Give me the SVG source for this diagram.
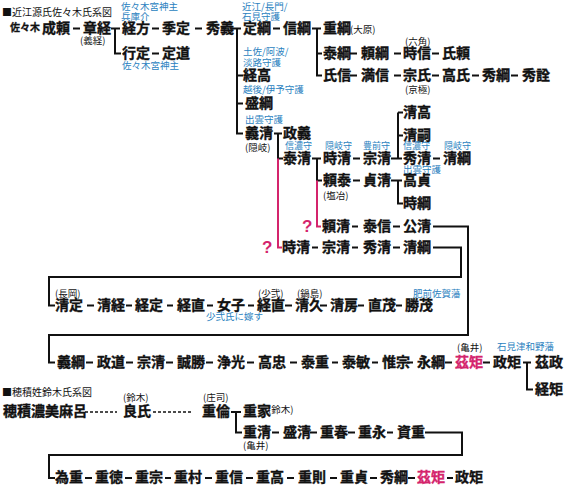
<svg xmlns="http://www.w3.org/2000/svg" width="565" height="488" viewBox="0 0 565 488">
<style>
text{font-family:"Noto Sans CJK JP","Noto Sans CJK SC",sans-serif}
.n{font-size:14px;font-weight:700;fill:#111;stroke:#111;stroke-width:0.35}
.s{font-size:9.5px;fill:#111}
.b{font-size:9.5px;fill:#2a7fc0}
.m{font-size:9px}
.t{font-size:10px;fill:#111}
.pk{fill:#d4246c;stroke:#d4246c}
.q{font-size:17px;font-weight:700;fill:#d4246c;font-family:"Liberation Sans",sans-serif}
.c{stroke:#111;stroke-width:2;fill:none}
.cp{stroke:#d4246c;stroke-width:2;fill:none}
.d{stroke:#111;stroke-width:1.6;fill:none;stroke-dasharray:3 2}
</style>
<rect width="565" height="488" fill="#fff"/>
<text class="t" x="2" y="16">■近江源氏佐々木氏系図</text>
<text class="t" x="2" y="396">■穂積姓鈴木氏系図</text>
<g id="connectors">
<path class="c" d="M73,28.5H80M152,28.5H159M195,28.5H202M273,28.5H280"/>
<path class="c" d="M111,28.5H120M115,28.5V53.5H121"/>
<path class="c" d="M232,28.5H241M237,28.5V133.5H243M237,75.5H243M237,103.5H243"/>
<path class="c" d="M312,28.5H321M317,28.5V75.5H322M317,53.5H322"/>
<path class="c" d="M152,53.5H159M350,53.5H357M394,53.5H401M432,53.5H439"/>
<path class="c" d="M350,75.5H357M394,75.5H401M432,75.5H439M472,75.5H479M511,75.5H518"/>
<path class="c" d="M274,133.5H282M278,133.5V158.5H283"/>
<path class="cp" d="M278,158.5V247.5H282"/>
<path class="c" d="M353,158.5H360M391,158.5H402M398,112.5V158.5M398,112.5H403M398,135.5H403M433,158.5H440"/>
<path class="c" d="M312,158.5H321M317,158.5V180.5H322"/>
<path class="cp" d="M317,180.5V226.5H321"/>
<path class="c" d="M353,180.5H360M391,180.5H402M398,180.5V203.5H403"/>
<path class="c" d="M352,226.5H358M393,226.5H400M433,226.5H468V335H49V362.5H55"/>
<path class="c" d="M312,247.5H318M352,247.5H358M393,247.5H400M433,247.5H461V277H49V305.5H55"/>
<path class="c" d="M87,305.5H94M126,305.5H132M167,305.5H173M207,305.5H213M248,305.5H254M285,305.5H292M320,305.5H327M358,305.5H364M396,305.5H402"/>
<path class="c" d="M86,362.5H93M126,362.5H133M166,362.5H173M206,362.5H213M247,362.5H254M290,362.5H297M332,362.5H338M372,362.5H378M407,362.5H413M445,362.5H452M483,362.5H490"/>
<path class="c" d="M523,362.5H531M527,362.5V389.5H533"/>
<path class="d" d="M85,412H117M153,412H193"/>
<path class="c" d="M231,412H241M236,412V432.5H242"/>
<path class="c" d="M272,432.5H279M310,432.5H317M348,432.5H355M387,432.5H393M425,432.5H462V455H49V478H55"/>
<path class="c" d="M85,478H92M125,478H132M165,478H171M205,478H212M246,478H253M287,478H294M330,478H337M370,478H377M408,478H415M447,478H453"/>
</g>
<g id="sasaki"><text x="10" y="31" style="font-size:10px;font-weight:700;fill:#111;stroke:#111;stroke-width:0.3">佐々木</text></g>
<g id="nariyori"><text class="n" x="42" y="33">成頼</text></g>
<g id="akitsune"><text class="n" x="83" y="33">章経</text><text class="s" x="80" y="43.5">(義経)</text></g>
<g id="tsunekata"><text class="b" x="121" y="10">佐々木宮神主</text><text class="b" x="121" y="19.5">兵庫介</text><text class="n" x="122" y="33">経方</text></g>
<g id="suesada"><text class="n" x="162" y="33">季定</text></g>
<g id="hideyoshi"><text class="n" x="206" y="33">秀義</text></g>
<g id="sadatsuna"><text class="b" x="242" y="10">近江/長門/</text><text class="b" x="242" y="19.5">石見守護</text><text class="n" x="243" y="33">定綱</text></g>
<g id="nobutsuna"><text class="n" x="283" y="33">信綱</text></g>
<g id="shigetsuna"><text class="n" x="323" y="33">重綱</text><text class="s" x="350" y="33">(大原)</text></g>
<g id="yukisada"><text class="n" x="122" y="58">行定</text><text class="b" x="122" y="68.5">佐々木宮神主</text></g>
<g id="sadamichi"><text class="n" x="162" y="58">定道</text></g>
<g id="yasutsuna"><text class="n" x="323" y="58">泰綱</text></g>
<g id="yoritsuna"><text class="n" x="361" y="58">頼綱</text></g>
<g id="tokinobu"><text class="s" x="405" y="44.5">(六角)</text><text class="n" x="403" y="58">時信</text></g>
<g id="ujiyori"><text class="n" x="442" y="58">氏頼</text></g>
<g id="tsunetaka"><text class="b" x="243" y="55">土佐/阿波/</text><text class="b" x="243" y="65.5">淡路守護</text><text class="n" x="243" y="80">経高</text></g>
<g id="ujinobu"><text class="n" x="323" y="80">氏信</text></g>
<g id="mitsunobu"><text class="n" x="361" y="80">満信</text></g>
<g id="muneuji"><text class="n" x="403" y="80">宗氏</text><text class="s" x="405" y="93">(京極)</text></g>
<g id="takauji"><text class="n" x="442" y="80">高氏</text></g>
<g id="hidetsuna1"><text class="n" x="482" y="80">秀綱</text></g>
<g id="hideaki"><text class="n" x="522" y="80">秀詮</text></g>
<g id="moritsuna"><text class="b" x="243" y="93">越後/伊予守護</text><text class="n" x="245" y="108">盛綱</text></g>
<g id="yoshikiyo"><text class="b" x="245" y="122.5">出雲守護</text><text class="n" x="245" y="138">義清</text><text class="s" x="245" y="150.5">(隠岐)</text></g>
<g id="masayoshi"><text class="n" x="283" y="138">政義</text></g>
<g id="yasukiyo"><text class="b m" x="285" y="149">信濃守</text><text class="n" x="283" y="163">泰清</text></g>
<g id="tokikiyo1"><text class="b m" x="325" y="149">隠岐守</text><text class="n" x="323" y="163">時清</text></g>
<g id="munekiyo1"><text class="b m" x="363" y="149">豊前守</text><text class="n" x="363" y="163">宗清</text></g>
<g id="kiyotaka"><text class="n" x="403" y="117">清高</text></g>
<g id="kiyotsugu"><text class="n" x="403" y="139.5">清嗣</text></g>
<g id="hidekiyo1"><text class="b m" x="403" y="149">信濃守</text><text class="n" x="403" y="163">秀清</text><text class="b" x="403" y="172.5">出雲守護</text></g>
<g id="kiyotsuna1"><text class="b m" x="444" y="149">隠岐守</text><text class="n" x="443" y="163">清綱</text></g>
<g id="yoriyasu"><text class="n" x="323" y="185">頼泰</text><text class="s" x="323" y="198.5">(塩冶)</text></g>
<g id="sadakiyo"><text class="n" x="363" y="185">貞清</text></g>
<g id="takasada"><text class="n" x="403" y="185">高貞</text></g>
<g id="tokitsuna"><text class="n" x="403" y="208">時綱</text></g>
<g id="yorikiyo"><text class="q" x="302" y="232">?</text><text class="n" x="322" y="231">頼清</text></g>
<g id="yasunobu"><text class="n" x="363" y="231">泰信</text></g>
<g id="kimikiyo"><text class="n" x="403" y="231">公清</text></g>
<g id="tokikiyo2"><text class="q" x="262" y="253">?</text><text class="n" x="282" y="252">時清</text></g>
<g id="munekiyo2"><text class="n" x="322" y="252">宗清</text></g>
<g id="hidekiyo2"><text class="n" x="363" y="252">秀清</text></g>
<g id="kiyotsuna2"><text class="n" x="403" y="252">清綱</text></g>
<g id="kiyosada"><text class="s" x="55" y="296.5">(長岡)</text><text class="n" x="55" y="310">清定</text></g>
<g id="kiyotsune"><text class="n" x="97" y="310">清経</text></g>
<g id="tsunesada"><text class="n" x="135" y="310">経定</text></g>
<g id="tsunenao1"><text class="n" x="177" y="310">経直</text></g>
<g id="joshi"><text class="n" x="217" y="310">女子</text><text class="b" x="206" y="319.5">少弐氏に嫁す</text></g>
<g id="tsunenao2"><text class="s" x="258" y="296.5">(少弐)</text><text class="n" x="257" y="310">経直</text></g>
<g id="kiyohisa"><text class="s" x="297" y="296.5">(鍋島)</text><text class="n" x="295" y="310">清久</text></g>
<g id="kiyofusa"><text class="n" x="330" y="310">清房</text></g>
<g id="naoshige"><text class="n" x="368" y="310">直茂</text></g>
<g id="katsushige"><text class="b" x="413" y="296.5">肥前佐賀藩</text><text class="n" x="405" y="310">勝茂</text></g>
<g id="yoshitsuna"><text class="n" x="57" y="367">義綱</text></g>
<g id="masamichi"><text class="n" x="97" y="367">政道</text></g>
<g id="munekiyo3"><text class="n" x="137" y="367">宗清</text></g>
<g id="masakatsu"><text class="n" x="177" y="367">誠勝</text></g>
<g id="joko"><text class="n" x="217" y="367">浄光</text></g>
<g id="takatada"><text class="n" x="258" y="367">高忠</text></g>
<g id="yasushige"><text class="n" x="301" y="367">泰重</text></g>
<g id="yasutoshi"><text class="n" x="342" y="367">泰敏</text></g>
<g id="koremune"><text class="n" x="382" y="367">惟宗</text></g>
<g id="nagatsuna"><text class="n" x="417" y="367">永綱</text></g>
<g id="korenori1"><text class="s" x="457" y="350.5">(亀井)</text><text class="n pk" x="455" y="367">茲矩</text></g>
<g id="masanori1"><text class="b" x="497" y="350">石見津和野藩</text><text class="n" x="493" y="367">政矩</text></g>
<g id="koremasa"><text class="n" x="535" y="367">茲政</text></g>
<g id="tsunenori"><text class="n" x="535" y="394">経矩</text></g>
<g id="hozumi"><text class="n" x="3" y="416">穂積濃美麻呂</text></g>
<g id="yoshiuji"><text class="s" x="123" y="400.5">(鈴木)</text><text class="n" x="123" y="416">良氏</text></g>
<g id="shigetomo"><text class="s" x="203" y="400.5">(庄司)</text><text class="n" x="202" y="416">重倫</text></g>
<g id="shigeie"><text class="n" x="243" y="416">重家</text><text class="s" x="268" y="413">(鈴木)</text></g>
<g id="shigekiyo"><text class="n" x="243" y="437">重清</text><text class="s" x="243" y="448.5">(亀井)</text></g>
<g id="morikiyo"><text class="n" x="283" y="437">盛清</text></g>
<g id="shigeharu"><text class="n" x="320" y="437">重春</text></g>
<g id="shigenaga"><text class="n" x="358" y="437">重永</text></g>
<g id="sukeshige"><text class="n" x="397" y="437">資重</text></g>
<g id="tameshige"><text class="n" x="55" y="482">為重</text></g>
<g id="shigenori1"><text class="n" x="95" y="482">重徳</text></g>
<g id="shigemune"><text class="n" x="135" y="482">重宗</text></g>
<g id="shigemura"><text class="n" x="174" y="482">重村</text></g>
<g id="shigenobu"><text class="n" x="215" y="482">重信</text></g>
<g id="shigetaka"><text class="n" x="256" y="482">重高</text></g>
<g id="shigenori2"><text class="n" x="298" y="482">重則</text></g>
<g id="shigesada"><text class="n" x="340" y="482">重貞</text></g>
<g id="hidetsuna2"><text class="n" x="380" y="482">秀綱</text></g>
<g id="korenori2"><text class="n pk" x="417" y="482">茲矩</text></g>
<g id="masanori2"><text class="n" x="455" y="482">政矩</text></g>
</svg>
